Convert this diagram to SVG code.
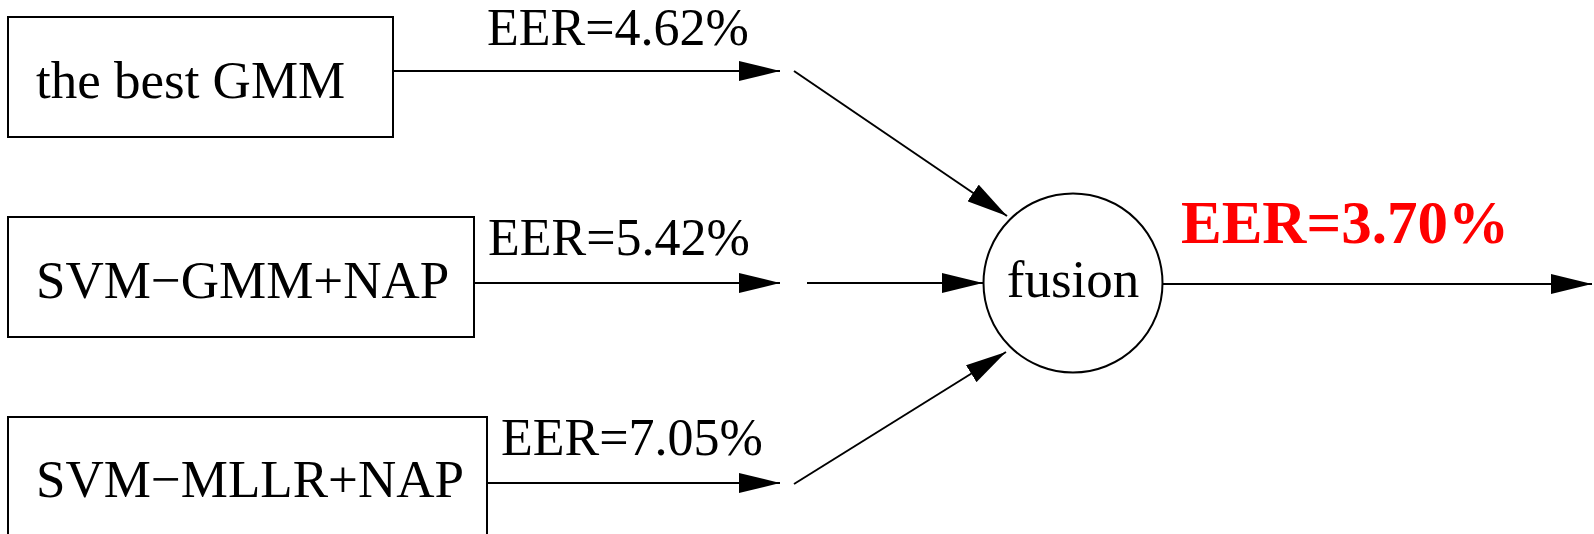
<svg xmlns="http://www.w3.org/2000/svg" width="1594" height="534" viewBox="0 0 1594 534">
<style>
.box{fill:#fff;stroke:#000;stroke-width:2}
.lbl{font-family:"Liberation Serif","Times New Roman",serif;font-size:53px;fill:#000}
.eer{font-family:"Liberation Serif","Times New Roman",serif;font-size:52px;fill:#000}
.res{font-family:"Liberation Serif","Times New Roman",serif;font-size:61px;font-weight:bold;fill:#ff0000}
.ln{stroke:#000;stroke-width:2;fill:none;marker-end:url(#ah)}
</style>
<defs>
<marker id="ah" markerUnits="userSpaceOnUse" markerWidth="42" markerHeight="20" refX="41" refY="10" orient="auto">
<path d="M0,0 L41,10 L0,20 Z" fill="#000"/>
</marker>
</defs>
<rect width="1594" height="534" fill="#fff"/>
<g id="node-gmm">
<rect class="box" x="8" y="17" width="385" height="120"/>
<text class="lbl" x="36" y="98">the best GMM</text>
</g>
<g id="node-svmgmm">
<rect class="box" x="8" y="217" width="466" height="120"/>
<text class="lbl" x="36" y="298">SVM−GMM+NAP</text>
</g>
<g id="node-svmmllr">
<rect class="box" x="8" y="417" width="479" height="130"/>
<text class="lbl" x="36" y="497">SVM−MLLR+NAP</text>
</g>
<g id="node-fusion">
<circle cx="1073" cy="283" r="89.5" fill="#fff" stroke="#000" stroke-width="2"/>
<text class="lbl" x="1073" y="297" text-anchor="middle">fusion</text>
</g>
<g id="connectors">
<line class="ln" x1="393" y1="71" x2="780" y2="71"/>
<line class="ln" x1="794" y1="71" x2="1007" y2="216"/>
<line class="ln" x1="474" y1="283" x2="780" y2="283"/>
<line class="ln" x1="807" y1="283" x2="983" y2="283"/>
<line class="ln" x1="487" y1="483" x2="780" y2="483"/>
<line class="ln" x1="794" y1="484" x2="1006" y2="352"/>
<line class="ln" x1="1163" y1="284" x2="1592" y2="284"/>
</g>
<g id="labels">
<text class="eer" x="487" y="45">EER=4.62%</text>
<text class="eer" x="488" y="255">EER=5.42%</text>
<text class="eer" x="501" y="455">EER=7.05%</text>
<text class="res" x="1181" y="243">EER=3.70%</text>
</g>
</svg>
